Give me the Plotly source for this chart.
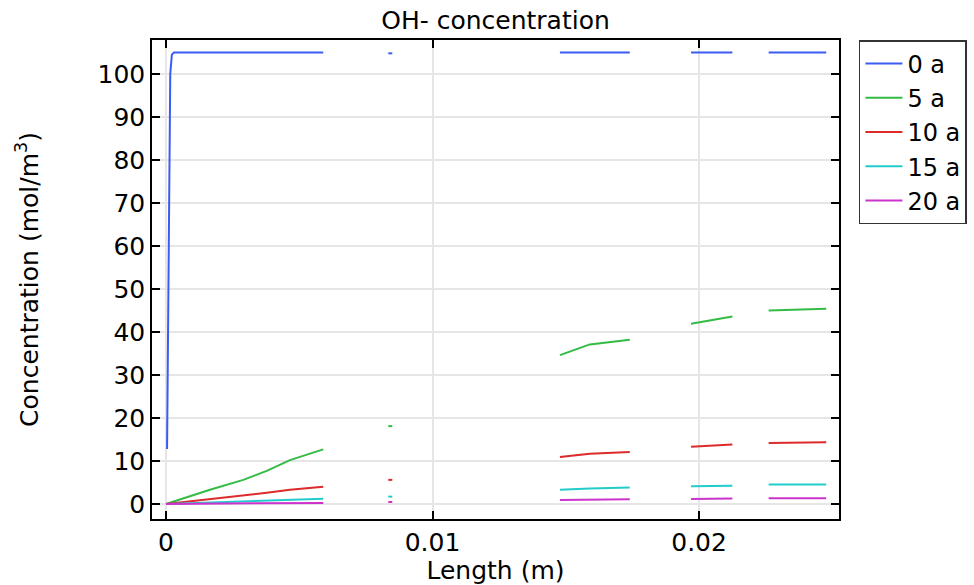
import plotly.graph_objects as go

# Segmented x positions (None = gap between domains)
x_vals = [0.0, 0.00165, 0.0029, 0.00378, 0.00465, 0.0059, None,
          0.00834, 0.00849, None,
          0.01478, 0.0159, 0.0174, None,
          0.0197, 0.02125, None,
          0.02261, 0.02477]

blue_x = [0.00004, 0.00008, 0.00012, 0.00016, 0.00022, 0.0003, 0.0059, None,
          0.00834, 0.00849, None,
          0.01478, 0.0174, None,
          0.0197, 0.02125, None,
          0.02261, 0.02477]
blue_y = [12.8, 50, 85, 100, 104.5, 105, 105, None,
          104.8, 104.8, None,
          105, 105, None,
          105, 105, None,
          105, 105]

green_y = [0.0, 3.3, 5.6, 7.7, 10.2, 12.7, None, 18.1, 18.1, None,
           34.6, 37.1, 38.2, None, 41.9, 43.6, None, 45.0, 45.4]
red_y = [0.0, 1.1, 1.9, 2.6, 3.3, 4.0, None, 5.6, 5.6, None,
         10.9, 11.7, 12.1, None, 13.3, 13.8, None, 14.2, 14.35]
cyan_y = [0.0, 0.35, 0.6, 0.8, 1.0, 1.2, None, 1.7, 1.7, None,
          3.3, 3.6, 3.8, None, 4.1, 4.25, None, 4.5, 4.5]
magenta_y = [0.0, 0.08, 0.13, 0.17, 0.2, 0.25, None, 0.45, 0.45, None,
             0.93, 1.02, 1.08, None, 1.16, 1.24, None, 1.3, 1.3]

names = ["0 a", "5 a", "10 a", "15 a", "20 a"]
colors = ["#3b5cf0", "#33bb44", "#dd2a2a", "#22cccc", "#cc33cc"]

x_tick_vals = [0, 0.01, 0.02]
x_tick_text = ["0", "0.01", "0.02"]
y_tick_vals = list(range(0, 101, 10))

fig = go.Figure()
fig.add_trace(go.Scatter(x=blue_x, y=blue_y, mode="lines", name=names[0],
                         line=dict(color=colors[0], width=2)))
for nm, ys, c in zip(names[1:], [green_y, red_y, cyan_y, magenta_y], colors[1:]):
    fig.add_trace(go.Scatter(x=x_vals, y=ys, mode="lines", name=nm,
                             line=dict(color=c, width=2)))

axis_common = dict(showline=True, linecolor="black", linewidth=1.5, mirror="ticks",
                   ticks="inside", ticklen=8, tickcolor="black", tickwidth=1.5,
                   showgrid=True, gridcolor="#e6e6e6", gridwidth=2, zeroline=False,
                   tickfont=dict(family="DejaVu Sans", size=25, color="black"))

fig.update_layout(
    width=974, height=585,
    margin=dict(l=152, r=135, t=40, b=66, autoexpand=False),
    paper_bgcolor="white", plot_bgcolor="white",
    title=dict(text="OH- concentration", x=0.5, xref="paper", y=0.966, yref="container",
               xanchor="center", yanchor="middle",
               font=dict(family="DejaVu Sans", size=25, color="black")),
    xaxis=dict(range=[-0.000525, 0.02525], tickvals=x_tick_vals, ticktext=x_tick_text,
               title=dict(text="Length (m)", standoff=0,
                          font=dict(family="DejaVu Sans", size=25, color="black")),
               **axis_common),
    yaxis=dict(range=[-3.5, 107.9], tickvals=y_tick_vals,
               title=dict(text="Concentration (mol/m<sup>3</sup>)", standoff=52,
                          font=dict(family="DejaVu Sans", size=25, color="black")),
               **axis_common),
    legend=dict(x=1.029, xanchor="left", y=1.0, yanchor="top",
                bordercolor="#333333", borderwidth=1.5, bgcolor="white",
                font=dict(family="DejaVu Sans", size=24, color="black"),
                tracegroupgap=0, itemwidth=37),
    showlegend=True,
)

fig.write_html("out.html")
